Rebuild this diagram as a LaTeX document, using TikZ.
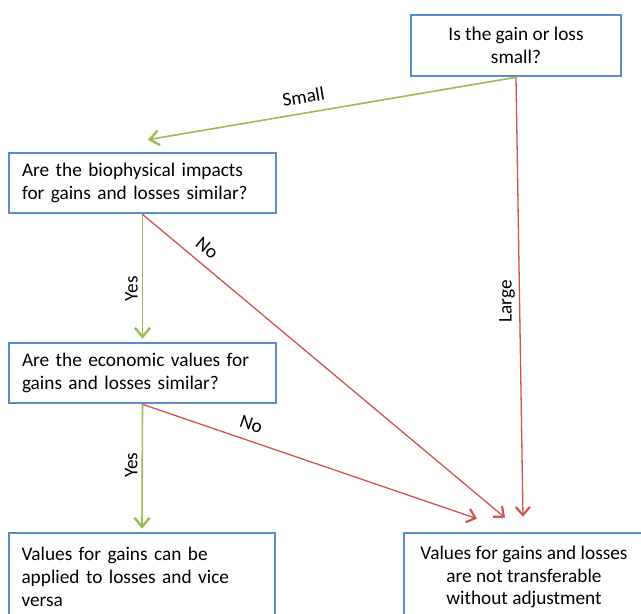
\documentclass[tikz,border=0pt]{standalone}
\usepackage{fontspec}
\setmainfont{Carlito}
\usetikzlibrary{arrows.meta}
\definecolor{boxblue}{RGB}{88,140,202}
\definecolor{arrgreen}{RGB}{155,187,89}
\definecolor{arrred}{RGB}{205,85,80}
\begin{document}
\begin{tikzpicture}[x=1pt,y=1pt,
  box/.style={draw=boxblue, line width=2.6pt, fill=white, rectangle,
    font=\fontsize{19.3}{22.8}\selectfont},
  lbl/.style={font=\fontsize{19.3}{22}\selectfont, sloped, above, inner sep=9pt},
  vlbl/.style={font=\fontsize{19.3}{22}\selectfont, rotate=90, anchor=south, inner sep=4pt},
  yesarrow/.style={draw=arrgreen, line width=1.6pt,
    -{Straight Barb[length=9pt,width=15pt,line width=2.4pt]}},
  noarrow/.style={draw=arrred, line width=1.3pt,
    -{Straight Barb[length=8pt,width=14pt,line width=2.2pt]}}]
\useasboundingbox (0,0) rectangle (641,614);
\clip (0,0) rectangle (641,614);

\node[box, minimum width=210pt, minimum height=61pt, align=center] (q1) at (516,568.5)
  {Is the gain or loss\\small?};
\node[box, minimum width=267pt, minimum height=60pt, text width=241pt, align=left] (q2) at (142.5,431)
  {Are the biophysical impacts\\for gains and losses similar?};
\node[box, minimum width=267pt, minimum height=60pt, text width=241pt, align=left] (q3) at (142.5,241)
  {Are the economic values for\\gains and losses similar?};
\node[box, minimum width=266pt, minimum height=88pt, text width=241pt, align=left] (r1) at (142,37)
  {Values for gains can be\\applied to losses and vice\\versa};
\node[box, minimum width=240pt, minimum height=88pt, align=center] (r2) at (524,37)
  {Values for gains and losses\\are not transferable\\without adjustment};

\draw[yesarrow] (q1.south) -- ([shift={(5.5,12)}]q2.north)
  node[lbl, pos=0.57] {Small};
\draw[noarrow] (q1.south) -- ([shift={(-1,15)}]r2.north)
  node[vlbl, pos=0.51] {Large};
\draw[yesarrow] (q2.south) -- ([shift={(0,3)}]q3.north)
  node[vlbl, pos=0.6] {Yes};
\draw[noarrow] (q2.south) -- ([shift={(-19,14)}]r2.north)
  node[lbl, pos=0.15] {No};
\draw[yesarrow] (q3.south) -- ([shift={(0,3)}]r1.north)
  node[vlbl, pos=0.49] {Yes};
\draw[noarrow] (q3.south) -- ([shift={(-47,13)}]r2.north)
  node[lbl, pos=0.31] {No};
\end{tikzpicture}
\end{document}
